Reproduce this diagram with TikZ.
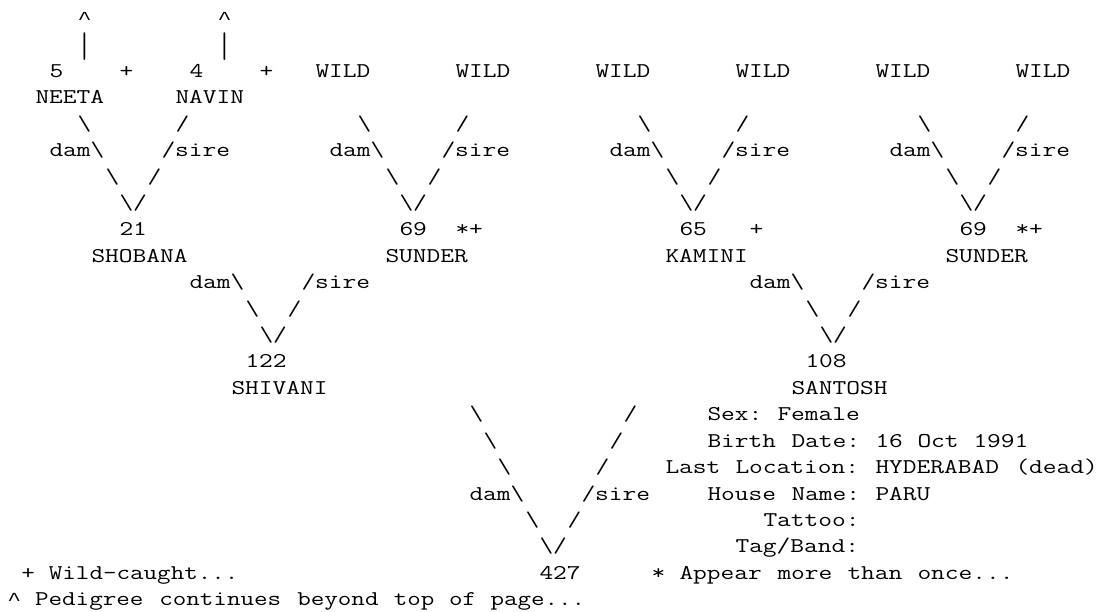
\documentclass[tikz,border=0pt]{standalone}
\usepackage{graphicx}
\usepackage{fontspec}
\newfontfamily\symmono{Liberation Mono}
\newcounter{tkn}
\tikzset{
  txt/.style={anchor=base west, inner sep=0pt, outer sep=0pt, text=black,
    font=\ttfamily\fontsize{21}{25}\selectfont},
}
% main grid: column width 14px, left offset 7.5px; line height 26.42px
\newcommand\tk[3]{\stepcounter{tkn}%
  \node[txt] (tk\arabic{tkn}) at ({7.5+14*(#1)},{24.5+26.42*(#2)}) {\scalebox{1.27}[1]{#3}};}
% footer grid: column width 13.8px
\newcommand\ft[3]{\stepcounter{tkn}%
  \node[txt] (tk\arabic{tkn}) at ({7.5+13.8*(#1)},{24.5+26.42*(#2)}) {\scalebox{1.252}[1]{#3}};}
\newcommand\bs{\textbackslash}
\newcommand\caret{{\symmono\fontsize{18.4}{22}\selectfont\char"5E}}
\newcommand\vbar{\raisebox{-7pt}{\scalebox{1}[1.7]{|}}}
\begin{document}
\begin{tikzpicture}[x=1pt,y=-1pt]
\fill[white] (0,0) rectangle (1104,612);
\useasboundingbox (0,0) rectangle (1104,612);
% line 0-1
\tk{5}{0}{\caret}\tk{15}{0}{\caret}
\tk{5}{1}{\vbar}\tk{15}{1}{\vbar}
% line 2
\tk{3}{2}{5}\tk{8}{2}{+}\tk{13}{2}{4}\tk{18}{2}{+}
\tk{22}{2}{WILD}\tk{32}{2}{WILD}\tk{42}{2}{WILD}\tk{52}{2}{WILD}\tk{62}{2}{WILD}\tk{72}{2}{WILD}
% line 3
\tk{2}{3}{NEETA}\tk{12}{3}{NAVIN}
% great-grandparent V's
\foreach \c in {5,25,45,65}{
  \tk{\c}{4}{\bs}\tk{\c+7}{4}{/}
  \tk{\c-2}{5}{dam\bs}\tk{\c+6}{5}{/sire}
  \tk{\c+2}{6}{\bs}\tk{\c+5}{6}{/}
  \tk{\c+3}{7}{\bs/}
}
% line 8-9
\tk{8}{8}{21}\tk{28}{8}{69}\tk{32}{8}{*+}\tk{48}{8}{65}\tk{53}{8}{+}\tk{68}{8}{69}\tk{72}{8}{*+}
\tk{6}{9}{SHOBANA}\tk{27}{9}{SUNDER}\tk{47}{9}{KAMINI}\tk{67}{9}{SUNDER}
% grandparent V's
\tk{13}{10}{dam\bs}\tk{21}{10}{/sire}\tk{53}{10}{dam\bs}\tk{61}{10}{/sire}
\tk{17}{11}{\bs}\tk{20}{11}{/}\tk{57}{11}{\bs}\tk{60}{11}{/}
\tk{18}{12}{\bs/}\tk{58}{12}{\bs/}
\tk{17}{13}{122}\tk{57}{13}{108}
\tk{16}{14}{SHIVANI}\tk{56}{14}{SANTOSH}
% parent V and details
\tk{33}{15}{\bs}\tk{44}{15}{/}\tk{50}{15}{Sex:}\tk{55}{15}{Female}
\tk{34}{16}{\bs}\tk{43}{16}{/}\tk{50}{16}{Birth}\tk{56}{16}{Date:}\tk{62}{16}{16}\tk{65}{16}{Oct}\tk{69}{16}{1991}
\tk{35}{17}{\bs}\tk{42}{17}{/}\tk{47}{17}{Last}\tk{52}{17}{Location:}\tk{62}{17}{HYDERABAD}\tk{72}{17}{(dead)}
\tk{33}{18}{dam\bs}\tk{41}{18}{/sire}\tk{50}{18}{House}\tk{56}{18}{Name:}\tk{62}{18}{PARU}
\tk{37}{19}{\bs}\tk{40}{19}{/}\tk{54}{19}{Tattoo:}
\tk{38}{20}{\bs/}\tk{52}{20}{Tag/Band:}
% footer
\ft{1}{21}{+}\ft{3}{21}{Wild-caught...}
\tk{38}{21}{427}
\tk{46}{21}{*}\tk{48}{21}{Appear}\tk{55}{21}{more}\tk{60}{21}{than}\tk{65}{21}{once...}
\ft{0}{22}{\caret}\ft{2}{22}{Pedigree}\ft{11}{22}{continues}\ft{21}{22}{beyond}
\ft{28}{22}{top}\ft{32}{22}{of}\ft{35}{22}{page...}
\end{tikzpicture}
\end{document}
